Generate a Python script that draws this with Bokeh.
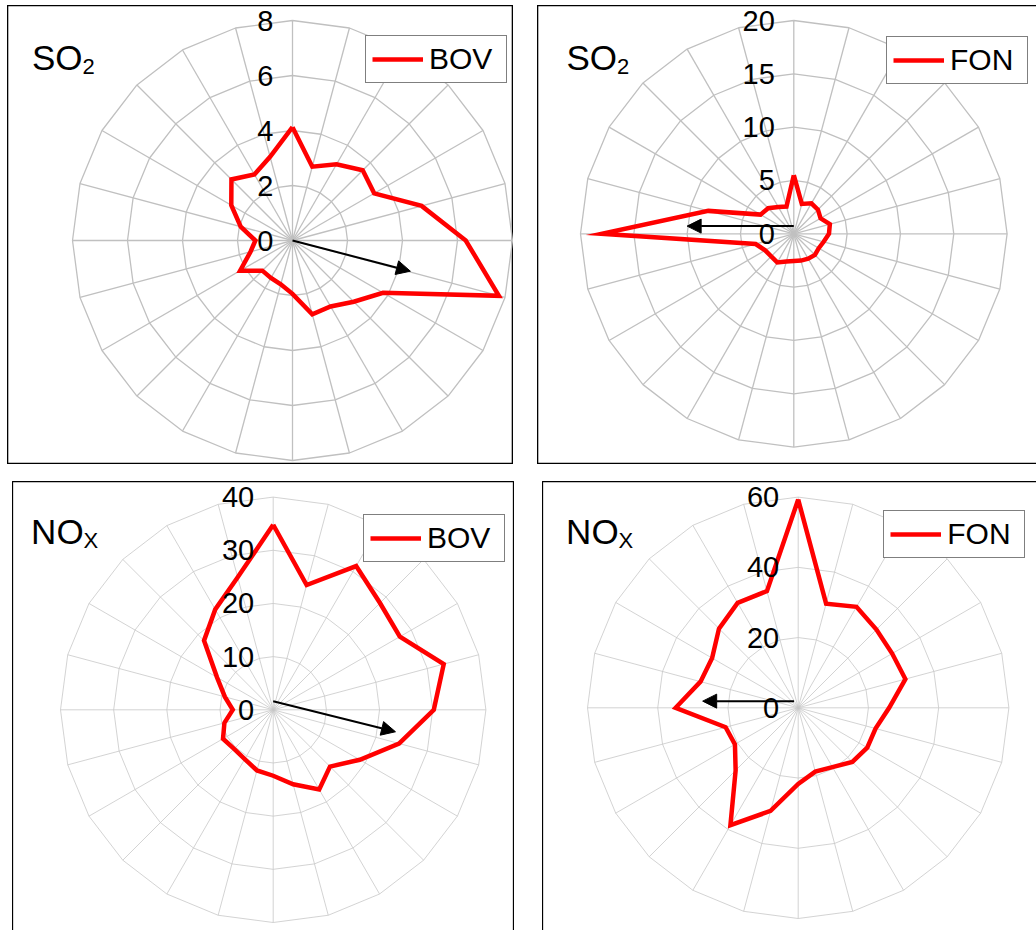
import numpy as np
from bokeh.plotting import figure
from bokeh.models import Arrow, NormalHead, Legend, LegendItem, Label, Range1d
from bokeh.layouts import column, row
from bokeh.embed import file_html
from bokeh.resources import INLINE
from bokeh.core.properties import value

# ---------------- data ----------------
# 24 wind directions, degrees clockwise from north
directions = list(range(0, 360, 15))

so2_bov = [4.12, 2.78, 3.2, 3.61, 3.43, 4.86, 6.3, 7.77, 3.8, 3.15, 2.77, 2.78,
           1.94, 1.65, 1.57, 1.55, 2.2, 1.58, 1.35, 1.95, 2.57, 3.14, 2.77, 3.15]
so2_fon = [5.5, 2.9, 3.3, 3.2, 2.9, 3.5, 3.3, 2.9, 2.7, 2.8, 2.7, 2.6,
           2.55, 2.7, 3.1, 3.0, 3.1, 3.7, 18.0, 8.3, 3.6, 3.4, 2.9, 2.65]
nox_bov = [34.8, 24.3, 31.2, 28.4, 27.5, 33.2, 30.2, 24.5, 18.8, 15.1, 17.3, 14.5,
           12.4, 11.8, 10.7, 10.4, 10.9, 9.5, 7.6, 9.4, 12.2, 18.4, 21.8, 25.8]
nox_fon = [59.3, 30.7, 33.2, 31.5, 30.9, 31.6, 25.9, 22.8, 22.7, 21.8, 19.5, 18.8,
           21.7, 30.4, 38.6, 25.2, 20.8, 21.4, 34.9, 28.8, 28.3, 31.9, 34.5, 34.4]

ticks_so2_bov = [0, 2, 4, 6, 8]
ticks_so2_fon = [0, 5, 10, 15, 20]
ticks_nox_bov = [0, 10, 20, 30, 40]
ticks_nox_fon = [0, 20, 40, 60]

# mean-direction arrows: direction (deg from north), length (value units)
arrow_dir = [104.6, 270.0, 104.0, 270.0]
arrow_len = [4.43, 10.0, 23.7, 26.0]
arrow_start = [(0.0, 0.0), (0.0, 0.72), (0.0, 1.6), (-1.2, 1.9)]

pollutant = ["SO", "SO", "NO", "NO"]
pollutant_sub = ["2", "2", "X", "X"]
station = ["BOV", "FON", "BOV", "FON"]

FONT = "Liberation Sans"


def make_panel(vals, ticks, box, center, radius, grid_w, grid_c, border_w,
               title, sub, name, adir, alen, astart, legend_box):
    L, T, W, H = box
    cx, cy = center
    s = radius / max(ticks)  # px per unit
    xr = Range1d((L - cx) / s, (L + W - cx) / s)
    yr = Range1d((cy - (T + H)) / s, (cy - T) / s)
    p = figure(width=W, height=H, x_range=xr, y_range=yr,
               x_axis_type=None, y_axis_type=None,
               output_backend="svg", toolbar_location=None, min_border=0,
               outline_line_color="black", outline_line_width=border_w,
               background_fill_color="white", border_fill_color="white")
    p.grid.visible = False

    th = np.radians(directions)
    rmax = max(ticks)
    # spokes
    p.multi_line(xs=[[0, rmax * np.sin(a)] for a in th],
                 ys=[[0, rmax * np.cos(a)] for a in th],
                 line_color=grid_c, line_width=grid_w)
    # rings
    thc = np.append(th, th[0])
    p.multi_line(xs=[list(t * np.sin(thc)) for t in ticks if t > 0],
                 ys=[list(t * np.cos(thc)) for t in ticks if t > 0],
                 line_color=grid_c, line_width=grid_w)
    # series
    v = np.append(vals, vals[0])
    r = p.line(v * np.sin(thc), v * np.cos(thc), line_color="#FF0000",
               line_width=4.5, line_join="miter")
    # tick labels
    p.text(x=[0] * len(ticks), y=ticks, text=[str(t) for t in ticks],
           x_offset=-19, text_align="right", text_baseline="middle",
           text_font=value(FONT), text_font_size="29px", text_color="black")
    # arrow
    x0, y0 = astart
    a = np.radians(adir)
    p.add_layout(Arrow(x_start=x0, y_start=y0,
                       x_end=x0 + alen * np.sin(a), y_end=y0 + alen * np.cos(a),
                       line_color="black", line_width=2,
                       end=NormalHead(size=14, fill_color="black", line_color="black")))
    # title with subscript
    tx, ty, sx, sy = title

    def d(px, py):
        return (px - cx) / s, (cy - py) / s
    X, Y = d(tx, ty)
    p.add_layout(Label(x=X, y=Y, text=pollutant[name], text_font=FONT,
                       text_font_size="35px", text_baseline="alphabetic",
                       text_color="black"))
    X, Y = d(sx, sy)
    p.add_layout(Label(x=X, y=Y, text=sub, text_font=FONT,
                       text_font_size="22px", text_baseline="alphabetic",
                       text_color="black"))
    # legend
    lx, ly = legend_box  # top-left in page px
    lh = 46
    leg = Legend(items=[LegendItem(label=station[name], renderers=[r])],
                 location=(lx - L, (T + H) - (ly + lh)),
                 border_line_color="black", border_line_width=1.2,
                 background_fill_color="white", background_fill_alpha=1.0,
                 padding=6, margin=0, spacing=0,
                 glyph_width=51, glyph_height=20, label_standoff=6,
                 label_width=71, label_height=33,
                 label_text_font=FONT, label_text_font_size="30px",
                 label_text_color="black")
    p.add_layout(leg)
    return p


p1 = make_panel(so2_bov, ticks_so2_bov, (7, 5, 506, 459), (292, 240), 220,
                1.3, "#C0C0C0", 1.6, (31.5, 56.7, 82, 65.7), pollutant_sub[0], 0,
                arrow_dir[0], arrow_len[0], arrow_start[0], (365, 36.7))
p2 = make_panel(so2_fon, ticks_so2_fon, (537, 5, 505, 459), (793.3, 233.3), 213.3,
                1.3, "#C0C0C0", 1.6, (566, 56.7, 616.6, 65.7), pollutant_sub[1], 1,
                arrow_dir[1], arrow_len[1], arrow_start[1], (886, 38.3))
p3 = make_panel(nox_bov, ticks_nox_bov, (12, 481, 502, 456), (272.7, 709.3), 212.7,
                0.8, "#C8C8C8", 1.3, (30.6, 531, 83.1, 540), pollutant_sub[2], 2,
                arrow_dir[2], arrow_len[2], arrow_start[2], (363, 515.7))
p4 = make_panel(nox_fon, ticks_nox_fon, (542, 481, 500, 456), (797.7, 707.3), 210.7,
                0.8, "#C8C8C8", 1.3, (565.6, 531, 618.1, 540), pollutant_sub[3], 3,
                arrow_dir[3], arrow_len[3], arrow_start[3], (883.3, 511.7))

p1.margin = (5, 0, 0, 7)
p2.margin = (5, 0, 0, 537 - (7 + 506))
p3.margin = (481 - 464, 0, 0, 12)
p4.margin = (481 - 464, 0, 0, 542 - (12 + 502))

layout = column(row(p1, p2), row(p3, p4))
open("out.html", "w").write(file_html(layout, INLINE))
